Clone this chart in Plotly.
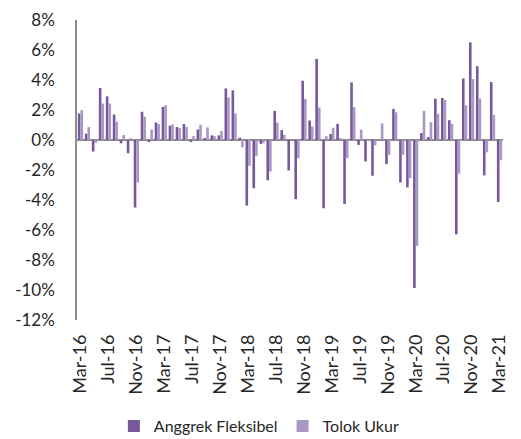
import plotly.graph_objects as go
import pandas as pd

months = [d.strftime("%b-%y") for d in pd.date_range("2016-03-01", "2021-03-01", freq="MS")]

anggrek_fleksibel = [
    1.77, 0.42, -0.77, 3.47, 2.91, 1.70, -0.22, -0.88, -4.50, 1.88,
    -0.10, 1.17, 2.20, 0.95, 0.86, 1.06, -0.07, 0.70, 0.07, 0.31,
    0.31, 3.44, 3.31, 0.15, -4.37, -3.22, -0.26, -2.69, 1.94, 0.66,
    -2.03, -3.95, 3.95, 1.30, 5.41, -4.55, 0.40, 1.08, -4.26, 3.84,
    -0.33, -1.43, -2.38, 0.00, -1.61, 2.07, -2.83, -3.16, -9.87, 0.46,
    0.20, 2.76, 2.80, 1.32, -6.29, 4.10, 6.51, 4.92, -2.36, 3.86,
    -4.13,
]

tolok_ukur = [
    2.00, 0.86, -0.20, 2.43, 2.43, 1.21, 0.33, 0.11, -2.83, 1.55,
    0.70, 1.06, 2.32, 1.04, 0.79, 0.88, 0.26, 1.02, 0.84, 0.26,
    0.60, 2.83, 1.77, -0.49, -1.72, -1.06, -0.22, -2.10, 1.17, 0.35,
    0.00, -1.21, 2.74, 0.90, 2.16, 0.26, 0.82, 0.07, -1.21, 2.19,
    0.68, -0.05, -0.35, 1.10, -0.99, 1.85, -0.99, -2.54, -7.06, 1.94,
    1.19, 1.74, 2.67, 1.08, -2.25, 2.32, 4.06, 2.76, -0.82, 1.68,
    -1.35,
]

tick_labels = ["Mar-16", "Jul-16", "Nov-16", "Mar-17", "Jul-17", "Nov-17",
               "Mar-18", "Jul-18", "Nov-18", "Mar-19", "Jul-19", "Nov-19",
               "Mar-20", "Jul-20", "Nov-20", "Mar-21"]

y_tick_values = [8, 6, 4, 2, 0, -2, -4, -6, -8, -10, -12]
y_tick_labels = ["8%", "6%", "4%", "2%", "0%", "-2%", "-4%", "-6%", "-8%", "-10%", "-12%"]

series_names = ["Anggrek Fleksibel", "Tolok Ukur"]

FONT = "Lato"
TXT = "#262626"

fig = go.Figure()
fig.add_trace(go.Bar(x=months, y=anggrek_fleksibel, name=series_names[0],
                     marker=dict(color="#76599A", line=dict(width=0))))
fig.add_trace(go.Bar(x=months, y=tolok_ukur, name=series_names[1],
                     marker=dict(color="#A998C6", line=dict(width=0))))

fig.update_layout(
    width=513, height=431,
    margin=dict(l=69, r=18, t=12, b=119, autoexpand=False),
    paper_bgcolor="white", plot_bgcolor="white",
    barmode="group", bargap=0.25, bargroupgap=0,
    font=dict(family=FONT, size=16, color=TXT),
    showlegend=True,
    legend=dict(orientation="h", xref="container", yref="container",
                x=0.49, xanchor="center", y=0.03, yanchor="middle",
                font=dict(family=FONT, size=16, color=TXT),
                itemwidth=30, traceorder="normal"),
    xaxis=dict(type="category", categoryorder="array", categoryarray=months,
               range=[-0.5, len(months) - 0.5], automargin=False,
               tickmode="array", tickvals=tick_labels, ticktext=tick_labels,
               tickangle=-90, showgrid=False, showline=False, zeroline=False,
               ticks="", ticklabelstandoff=10,
               tickfont=dict(family=FONT, size=18, color=TXT)),
    yaxis=dict(range=[-12, 8], automargin=False,
               tickmode="array", tickvals=y_tick_values, ticktext=y_tick_labels,
               showgrid=False, showline=True, linecolor="#8C8C8C", linewidth=1.5,
               zeroline=True, zerolinecolor="#8C8C8C", zerolinewidth=1.5,
               ticks="", ticklabelstandoff=17,
               tickfont=dict(family=FONT, size=17, color=TXT)),
)

fig.write_html("out.html")
